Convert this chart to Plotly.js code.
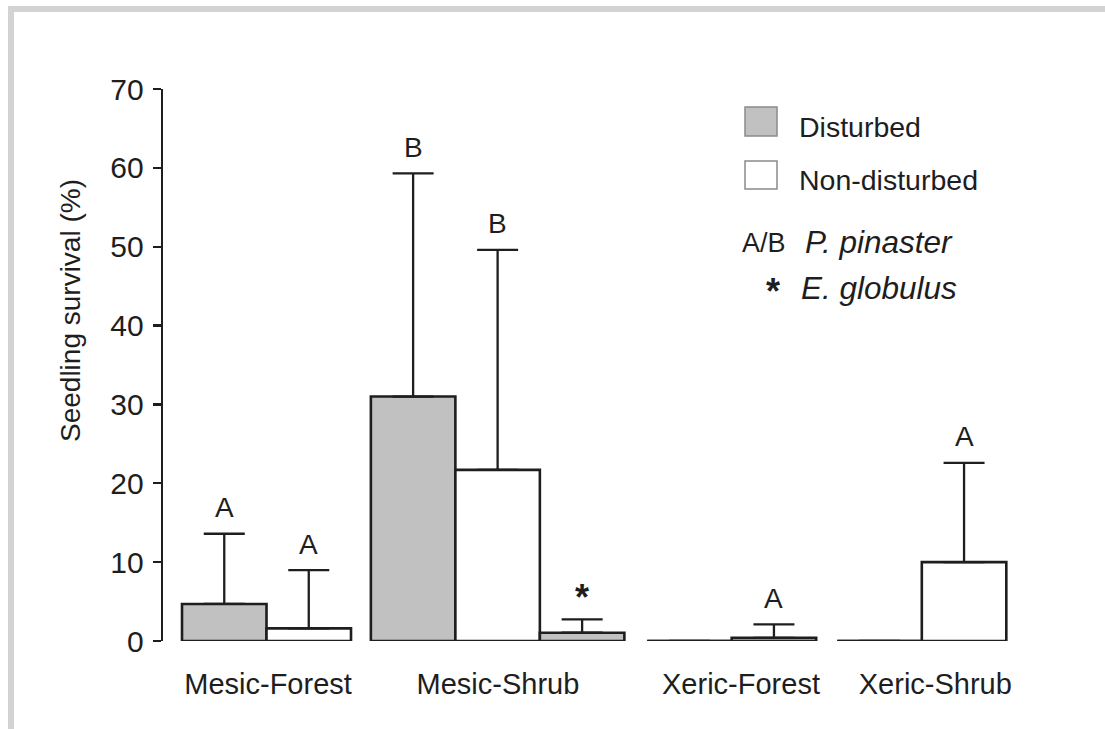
<!DOCTYPE html>
<html>
<head>
<meta charset="utf-8">
<script src="https://cdn.plot.ly/plotly-3.0.1.min.js"></script>
<style>
  html, body { margin: 0; padding: 0; background: #ffffff; }
  #chart { width: 1105px; height: 729px; }
</style>
</head>
<body>
<div id="chart"></div>
<script>
// Sites along the x axis
const sites = ['Mesic-Forest', 'Mesic-Shrub', 'Xeric-Forest', 'Xeric-Shrub'];

// P. pinaster seedling survival (%), mean and upper error
const pinasterDisturbed = [4.7, 31.0, 0, 0];
const pinasterDisturbedErr = [8.9, 28.3, null, null];
const pinasterNonDisturbed = [1.6, 21.7, 0.4, 10.0];
const pinasterNonDisturbedErr = [7.4, 27.9, 1.7, 12.6];

// E. globulus seedling survival (%), only recorded at Mesic-Shrub (disturbed)
const globulusSite = 'Mesic-Shrub';
const globulusDisturbed = [1.05];
const globulusDisturbedErr = [1.7];

// Significance letters drawn above the bars
const pinasterDisturbedLetters = ['A', 'B', '', ''];
const pinasterNonDisturbedLetters = ['A', 'B', 'A', 'A'];
const globulusLetters = ['<b>*</b>'];

// Y axis ticks
const yTicks = [0, 10, 20, 30, 40, 50, 60, 70];

// ---- layout geometry (x in bar-width units) ----
const W = 1105, H = 729;
const M = { l: 163, r: 75, t: 89, b: 88 };
const plotW = W - M.l - M.r, plotH = H - M.t - M.b;
const unitPx = 84.5;
const groupStart = [0.225, 2.46, 5.73, 7.98];
const labelPos = [1.243, 3.964, 6.84, 9.14];
const barW = 1.0;

const xD = groupStart.map(s => s + 0.5);
const xND = groupStart.map(s => s + 1.5);
const xG = [groupStart[sites.indexOf(globulusSite)] + 2.5];

const INK = '#1e1e1e';
const GREY = '#c1c1c1';
const FONT = 'Liberation Sans, Arial, sans-serif';

function barTrace(x, y, err, fill) {
  return {
    type: 'bar', x: x, y: y, width: x.map(() => barW),
    marker: { color: fill, line: { color: INK, width: 2.6 } },
    error_y: {
      type: 'data', symmetric: false, array: err, arrayminus: err.map(() => 0),
      color: INK, thickness: 2.3, width: 20.5
    },
    showlegend: false, hoverinfo: 'skip'
  };
}

// Baseline segments for bars whose mean is zero
function zeroSegments(xs, ys) {
  const sx = [], sy = [];
  xs.forEach((x, i) => {
    if (ys[i] === 0) { sx.push(x - barW / 2, x + barW / 2, null); sy.push(0, 0, null); }
  });
  return { type: 'scatter', mode: 'lines', x: sx, y: sy, line: { color: INK, width: 2.6 },
           showlegend: false, hoverinfo: 'skip', cliponaxis: false };
}

const traces = [
  barTrace(xD, pinasterDisturbed, pinasterDisturbedErr, GREY),
  barTrace(xND, pinasterNonDisturbed, pinasterNonDisturbedErr, '#ffffff'),
  barTrace(xG, globulusDisturbed, globulusDisturbedErr, GREY),
  zeroSegments(xD.concat(xND), pinasterDisturbed.concat(pinasterNonDisturbed))
];

// Letters above error bars
const annotations = [];
function addLetters(xs, ys, errs, letters, size, shift) {
  xs.forEach((x, i) => {
    if (!letters[i]) return;
    annotations.push({
      x: x, y: ys[i] + (errs[i] || 0), xref: 'x', yref: 'y',
      text: letters[i], showarrow: false, yanchor: 'middle', yshift: shift,
      font: { family: FONT, size: size, color: INK }
    });
  });
}
addLetters(xD, pinasterDisturbed, pinasterDisturbedErr, pinasterDisturbedLetters, 28, 26);
addLetters(xND, pinasterNonDisturbed, pinasterNonDisturbedErr, pinasterNonDisturbedLetters, 28, 26);
addLetters(xG, globulusDisturbed, globulusDisturbedErr, globulusLetters, 36, 22);

// Pixel -> paper helpers for the key, axis title and frame
const px = v => (v - M.l) / plotW;
const py = v => (H - M.b - v) / plotH;

function keyText(x, y, text, size, italic) {
  annotations.push({
    x: px(x), y: py(y), xref: 'paper', yref: 'paper', xanchor: 'left', yanchor: 'middle',
    text: italic ? '<i>' + text + '</i>' : text, showarrow: false,
    font: { family: FONT, size: size, color: INK }
  });
}
keyText(797, 127, 'Disturbed', 28.5, false);
keyText(797, 180, 'Non-disturbed', 28.5, false);
keyText(740, 243, 'A/B', 27, false);
keyText(803, 242, 'P. pinaster', 31.5, true);
keyText(764, 291, '<b>*</b>', 36, false);
keyText(799, 288, 'E. globulus', 31.5, true);

// Y axis title
annotations.push({
  x: px(70), y: py(311), xref: 'paper', yref: 'paper', xanchor: 'center', yanchor: 'middle',
  text: 'Seedling survival (%)', textangle: -90, showarrow: false,
  font: { family: FONT, size: 28, color: INK }
});

const shapes = [
  // key swatches
  { type: 'rect', xref: 'paper', yref: 'paper', x0: px(745), x1: px(777), y0: py(107), y1: py(136),
    fillcolor: GREY, line: { color: '#8a8a8a', width: 1.5 } },
  { type: 'rect', xref: 'paper', yref: 'paper', x0: px(745), x1: px(777), y0: py(161), y1: py(189),
    fillcolor: '#ffffff', line: { color: '#8a8a8a', width: 1.5 } },
  // page frame
  { type: 'line', xref: 'paper', yref: 'paper', x0: px(8), x1: px(1110), y0: py(9), y1: py(9),
    line: { color: '#d3d3d3', width: 6 } },
  { type: 'line', xref: 'paper', yref: 'paper', x0: px(11), x1: px(11), y0: py(6), y1: py(735),
    line: { color: '#d3d3d3', width: 6 } }
];

const layout = {
  width: W, height: H, margin: M,
  paper_bgcolor: '#ffffff', plot_bgcolor: '#ffffff',
  barmode: 'overlay', showlegend: false, hovermode: false,
  font: { family: FONT, color: INK },
  xaxis: {
    range: [0, plotW / unitPx], showline: false, showgrid: false, zeroline: false,
    tickmode: 'array', tickvals: labelPos, ticktext: sites, ticks: '',
    tickfont: { family: FONT, size: 29, color: INK }, ticklabelstandoff: 23
  },
  yaxis: {
    range: [0, 70], tickmode: 'array', tickvals: yTicks,
    showline: true, linecolor: INK, linewidth: 2.3,
    ticks: 'outside', ticklen: 8, tickwidth: 2.3, tickcolor: INK,
    showgrid: false, zeroline: false,
    tickfont: { family: FONT, size: 30, color: INK }, ticklabelstandoff: 3
  },
  annotations: annotations,
  shapes: shapes
};

Plotly.newPlot('chart', traces, layout, { staticPlot: true, displayModeBar: false });
</script>
</body>
</html>
